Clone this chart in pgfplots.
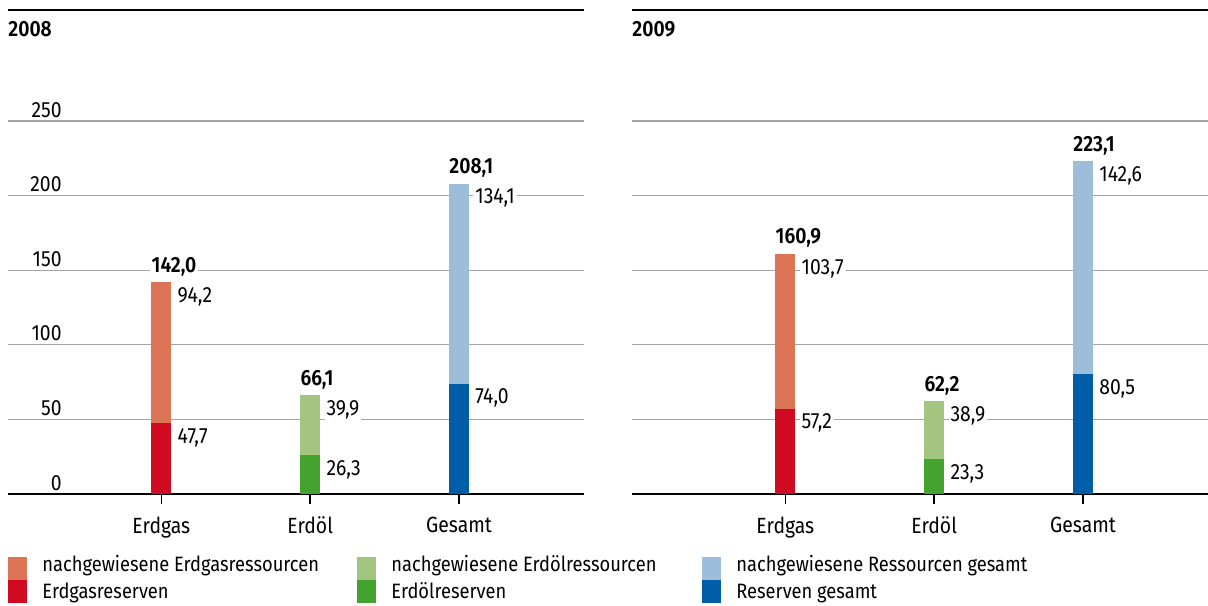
\documentclass[border=0pt]{standalone}
\usepackage{fontspec}
\setmainfont{Fira Sans}[FakeStretch=0.88, BoldFont={Fira Sans SemiBold}]
\usepackage{pgfplots}
\pgfplotsset{compat=1.18}
\definecolor{gasL}{RGB}{222,116,86}
\definecolor{gasD}{RGB}{208,10,32}
\definecolor{oilL}{RGB}{162,198,128}
\definecolor{oilD}{RGB}{68,162,46}
\definecolor{totL}{RGB}{156,190,219}
\definecolor{totD}{RGB}{0,94,168}
\definecolor{gridc}{RGB}{165,165,165}
\newcommand\lab{\fontsize{11}{13}\selectfont}
\newcommand\leg{\fontsize{10.4}{12}\selectfont}
\pgfplotsset{
  panel/.style={
    scale only axis, width=288pt, height=242pt,
    ybar, bar width=10pt, bar shift=0pt,
    xmin=-1.03, xmax=2.84, ymin=0, ymax=324.4,
    axis x line*=bottom, axis y line*=left,
    y axis line style={draw=none},
    x axis line style={black, line width=0.8pt},
    xtick={0,1,2}, xticklabels={Erdgas,Erdöl,Gesamt},
    xtick style={black, line width=0.8pt},
    major tick length=5pt, tick align=outside,
    ytick={0,50,...,250}, ymajorgrids, grid style={gridc, line width=0.6pt},
    ytick style={draw=none},
    tick label style={font=\lab},
    /pgf/number format/assume math mode=true,
    yticklabel style={anchor=base east, inner xsep=0pt, xshift=32pt, yshift=2pt},
    xticklabel style={anchor=north, yshift=-3pt},
    nodes near coords={\pgfmathprintnumber[fixed,fixed zerofill,precision=1,use comma,assume math mode=true]{\pgfplotspointmeta}},
    clip=false,
  },
  tot/.style={point meta=y, every node near coord/.style={font=\lab\bfseries, anchor=base west, xshift=-6pt, yshift=5pt, fill=white, inner sep=1pt}},
  side/.style={every node near coord/.style={font=\lab, anchor=north west, xshift=7pt, yshift=-1.5pt, fill=white, inner sep=1pt}},
}
\begin{document}
\begin{tikzpicture}
\useasboundingbox (0,0) rectangle (604pt,302.5pt);
% 2008
\begin{axis}[panel, at={(4pt,55.5pt)}, anchor=south west]
\addplot[fill=gasL, draw=none, tot] coordinates {(0,142.0)};
\addplot[fill=none, draw=none, side, point meta=explicit] coordinates {(0,142.0) [94.2]};
\addplot[fill=gasD, draw=none, side, point meta=y] coordinates {(0,47.7)};
\addplot[fill=oilL, draw=none, tot] coordinates {(1,66.1)};
\addplot[fill=none, draw=none, side, point meta=explicit] coordinates {(1,66.1) [39.9]};
\addplot[fill=oilD, draw=none, side, point meta=y] coordinates {(1,26.3)};
\addplot[fill=totL, draw=none, tot] coordinates {(2,208.1)};
\addplot[fill=none, draw=none, side, point meta=explicit] coordinates {(2,208.1) [134.1]};
\addplot[fill=totD, draw=none, side, point meta=y] coordinates {(2,74.0)};
\draw[black, line width=1pt] (rel axis cs:0,1) -- (rel axis cs:1,1);
\end{axis}
% 2009
\begin{axis}[panel, at={(316pt,55.5pt)}, anchor=south west, yticklabels={}]
\addplot[fill=gasL, draw=none, tot] coordinates {(0,160.9)};
\addplot[fill=none, draw=none, side, point meta=explicit] coordinates {(0,160.9) [103.7]};
\addplot[fill=gasD, draw=none, side, point meta=y] coordinates {(0,57.2)};
\addplot[fill=oilL, draw=none, tot] coordinates {(1,62.2)};
\addplot[fill=none, draw=none, side, point meta=explicit] coordinates {(1,62.2) [38.9]};
\addplot[fill=oilD, draw=none, side, point meta=y] coordinates {(1,23.3)};
\addplot[fill=totL, draw=none, tot] coordinates {(2,223.1)};
\addplot[fill=none, draw=none, side, point meta=explicit] coordinates {(2,223.1) [142.6]};
\addplot[fill=totD, draw=none, side, point meta=y] coordinates {(2,80.5)};
\draw[black, line width=1pt] (rel axis cs:0,1) -- (rel axis cs:1,1);
\end{axis}
% year labels
\node[anchor=base west, inner sep=0pt, font=\fontsize{11}{13}\selectfont\bfseries] at (4pt,284pt) {2008};
\node[anchor=base west, inner sep=0pt, font=\fontsize{11}{13}\selectfont\bfseries] at (316pt,284pt) {2009};
% legend
\foreach \x/\cl/\cd/\tl/\td in {4/gasL/gasD/nachgewiesene Erdgasressourcen/Erdgasreserven,
  178.5/oilL/oilD/nachgewiesene Erdölressourcen/Erdölreserven,
  351/totL/totD/nachgewiesene Ressourcen gesamt/Reserven gesamt}{
  \fill[\cl] (\x pt,12.5pt) rectangle ++(9.5pt,11.5pt);
  \fill[\cd] (\x pt,1pt) rectangle ++(9.5pt,11.5pt);
  \node[anchor=base west, inner sep=0pt, font=\leg] at (\x pt+17pt,17pt) {\tl};
  \node[anchor=base west, inner sep=0pt, font=\leg] at (\x pt+17pt,3.5pt) {\td};
}
\end{tikzpicture}
\end{document}
